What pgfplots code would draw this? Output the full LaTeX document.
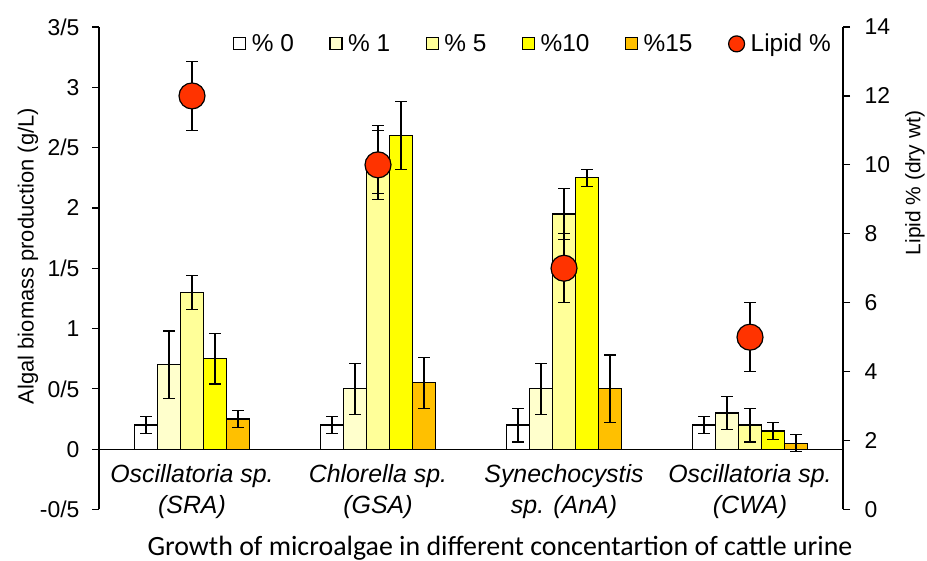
\documentclass[border=0pt]{standalone}
\usepackage{fontspec}
\setmainfont{Liberation Sans}
\newfontfamily\calibri{Carlito}
\usepackage{pgfplots}
\pgfplotsset{compat=1.18}

\definecolor{c0}{RGB}{255,255,255}
\definecolor{c1}{RGB}{255,255,204}
\definecolor{c5}{RGB}{255,255,153}
\definecolor{c10}{RGB}{255,255,0}
\definecolor{c15}{RGB}{255,192,0}
\definecolor{lipid}{RGB}{255,51,0}

\pgfplotsset{
  common/.style={
    at={(99bp,51.5bp)}, anchor=south west,
    scale only axis, width=744bp, height=482.5bp,
    xmin=-0.5, xmax=3.5,
    tick align=outside, major tick length=7bp,
    tick style={black, line width=1.2bp},
    axis line style={-, black, line width=1.2bp},
  },
  barstyle/.style={
    ybar, bar width=23bp, draw=black, line width=1.2bp, fill=#1,
    error bars/.cd, y dir=both, y explicit,
    error bar style={black, line width=1.2bp},
    error mark options={rotate=90, black, line width=1.2bp, mark size=5.7bp},
  },
  legbox/.style={legend image code/.code={\draw[draw=black, fill=#1, line width=1.2bp] (0bp,-6bp) rectangle (12bp,6bp);}},
}

\begin{document}
\begin{tikzpicture}[x=1bp, y=1bp]
\useasboundingbox (0,0) rectangle (927,561);

% left axis: biomass bars
\begin{axis}[common,
    ybar=0pt,
    ymin=-0.5, ymax=3.5,
    axis y line*=left, axis x line*=middle,
    ytick={-0.5,0,0.5,1,1.5,2,2.5,3,3.5},
    yticklabels={-0/5,0,0/5,1,1/5,2,2/5,3,3/5},
    yticklabel style={font=\fontsize{23}{26}\selectfont, xshift=-9bp},
    xtick={0,1,2,3}, xtick style={draw=none},
    xticklabels={{Oscillatoria sp.\\(SRA)},{Chlorella sp.\\(GSA)},{Synechocystis\\sp. (AnA)},{Oscillatoria sp.\\(CWA)}},
    xticklabel style={align=center, font=\fontsize{25}{31}\selectfont\itshape, yshift=-5bp},
  ]
  % % 0
  \addplot[barstyle=c0] coordinates {
    (0,0.2) +- (0,0.07) (1,0.2) +- (0,0.07) (2,0.2) +- (0,0.14) (3,0.2) +- (0,0.07)};
  % % 1
  \addplot[barstyle=c1] coordinates {
    (0,0.7) +- (0,0.28) (1,0.5) +- (0,0.21) (2,0.5) +- (0,0.21) (3,0.3) +- (0,0.14)};
  % % 5
  \addplot[barstyle=c5] coordinates {
    (0,1.3) +- (0,0.14) (1,2.4) +- (0,0.28) (2,1.95) +- (0,0.21) (3,0.2) +- (0,0.14)};
  % % 10
  \addplot[barstyle=c10] coordinates {
    (0,0.75) +- (0,0.21) (1,2.6) +- (0,0.28) (2,2.25) +- (0,0.07) (3,0.15) +- (0,0.07)};
  % % 15
  \addplot[barstyle=c15] coordinates {
    (0,0.25) +- (0,0.07) (1,0.55) +- (0,0.21) (2,0.5) +- (0,0.28) (3,0.05) +- (0,0.07)};
\end{axis}

% right axis: lipid content
\begin{axis}[common,
    ymin=0, ymax=14, ytick={0,2,...,14},
    axis y line*=right, axis x line=none,
    clip=false,
    /pgf/number format/assume math mode=true,
    yticklabel style={font=\fontsize{23}{26}\selectfont, xshift=11bp},
    legend columns=6,
    legend style={at={(0.18,0.965)}, anchor=west, draw=none, fill=none,
      font=\fontsize{24.5}{28}\selectfont, inner xsep=0pt,
      nodes={inner xsep=5.5bp},
      /tikz/every even column/.append style={column sep=30bp}},
  ]
  \addlegendimage{legbox=c0}
  \addlegendentry{\% 0}
  \addlegendimage{legbox=c1}
  \addlegendentry{\% 1}
  \addlegendimage{legbox=c5}
  \addlegendentry{\% 5}
  \addlegendimage{legbox=c10}
  \addlegendentry{\%10}
  \addlegendimage{legbox=c15}
  \addlegendentry{\%15}
  \addplot[only marks, mark=*, mark size=13bp,
    mark options={draw=black, fill=lipid, line width=1.2bp},
    legend image code/.code={\draw[draw=black, fill=lipid, line width=1.2bp] (8bp,0bp) circle (8bp);},
    error bars/.cd, y dir=both, y explicit,
    error bar style={black, line width=1.2bp},
    error mark options={rotate=90, black, line width=1.2bp, mark size=5.7bp}]
    coordinates {(0,12) +- (0,1) (1,10) +- (0,1) (2,7) +- (0,1) (3,5) +- (0,1)};
  \addlegendentry{Lipid \%}
\end{axis}

\node[rotate=90, font=\fontsize{22}{26}\selectfont] at (28,305) {Algal biomass production (g/L)};
\node[rotate=90, font=\fontsize{21}{25}\selectfont] at (915,378) {Lipid \% (dry wt)};
\node[font=\calibri\fontsize{28}{32}\selectfont] at (500,13) {Growth of microalgae in different concentartion of cattle urine};
\end{tikzpicture}
\end{document}
